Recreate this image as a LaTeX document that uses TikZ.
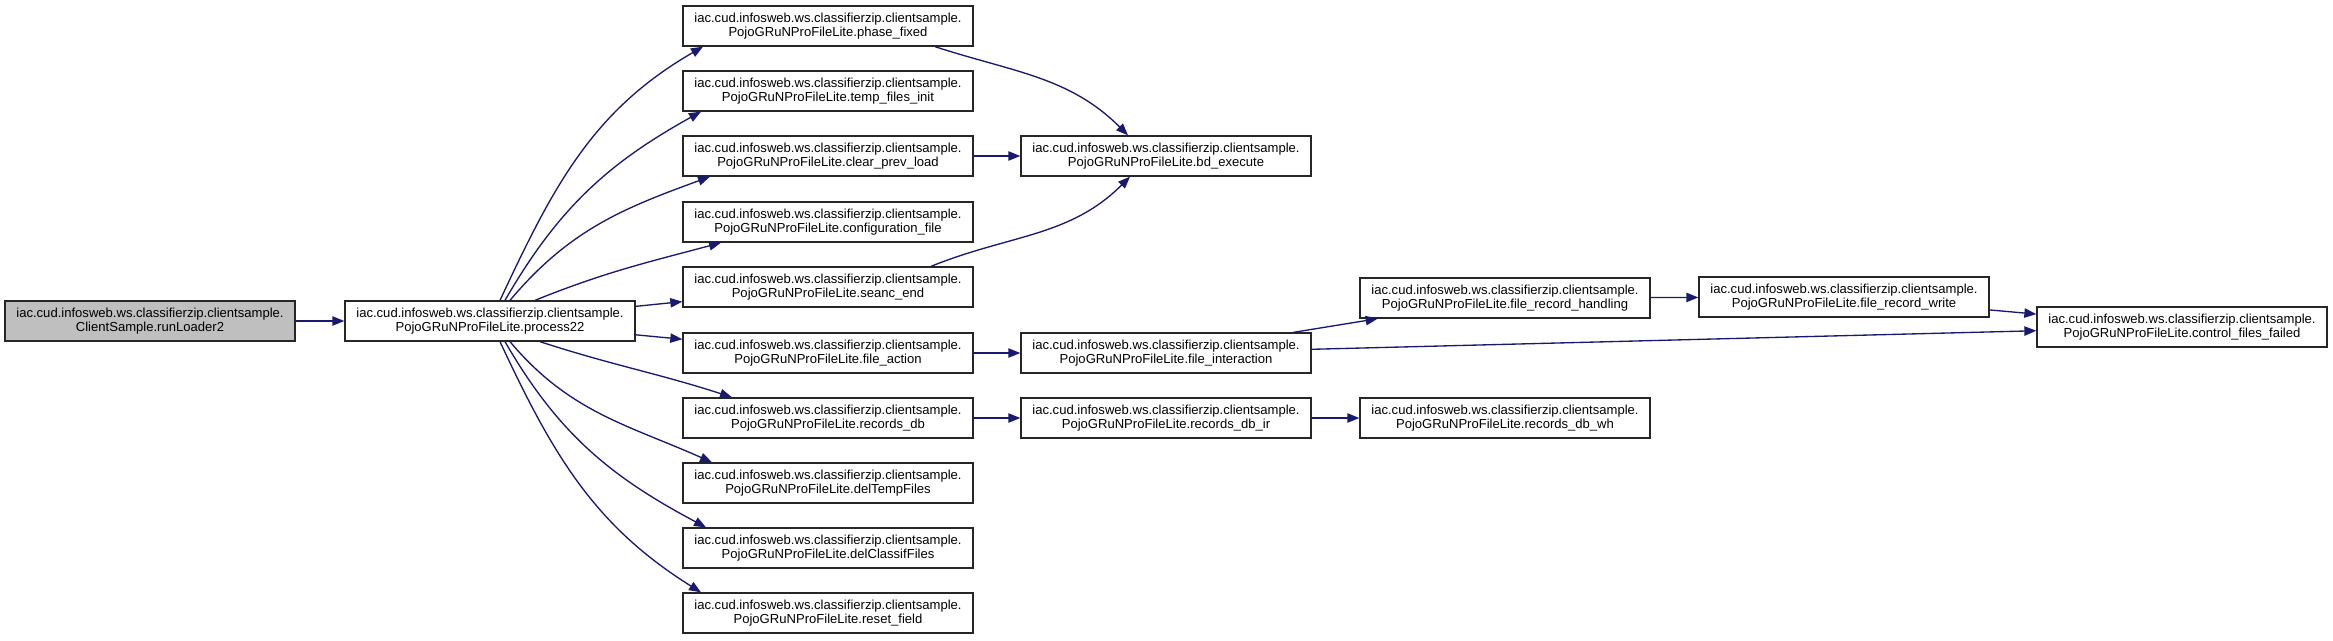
\documentclass[tikz,border=0pt]{standalone}
\usepackage{fontspec}
\setmainfont{Liberation Sans}
\usetikzlibrary{arrows.meta,calc}
\definecolor{edgeblue}{HTML}{191970}
\definecolor{curgray}{HTML}{BFBFBF}

\begin{document}
\begin{tikzpicture}[x=0.75pt, y=-0.75pt, >={Triangle[length=9pt,width=7pt]},
    fn/.style={draw=black!85, line width=1pt, fill=white, align=center, minimum width=217.5pt, minimum height=30pt, inner sep=1pt, font=\fontsize{9.8pt}{10.5pt}\selectfont},
    cur/.style={fn, fill=curgray},
    calls/.style={->, draw=edgeblue, line width=1pt}]
  \useasboundingbox (0,0) rectangle (2333,640);
  % caller and entry
  \node[cur] (run) at (150,321) {iac.cud.infosweb.ws.classifierzip.clientsample.\\ClientSample.runLoader2};
  \node[fn] (p22) at (490,321) {iac.cud.infosweb.ws.classifierzip.clientsample.\\PojoGRuNProFileLite.process22};
  % first level
  \node[fn] (pf) at (828,26) {iac.cud.infosweb.ws.classifierzip.clientsample.\\PojoGRuNProFileLite.phase\_fixed};
  \node[fn] (tfi) at (828,91) {iac.cud.infosweb.ws.classifierzip.clientsample.\\PojoGRuNProFileLite.temp\_files\_init};
  \node[fn] (cpl) at (828,156) {iac.cud.infosweb.ws.classifierzip.clientsample.\\PojoGRuNProFileLite.clear\_prev\_load};
  \node[fn] (cfg) at (828,222) {iac.cud.infosweb.ws.classifierzip.clientsample.\\PojoGRuNProFileLite.configuration\_file};
  \node[fn] (sen) at (828,287) {iac.cud.infosweb.ws.classifierzip.clientsample.\\PojoGRuNProFileLite.seanc\_end};
  \node[fn] (fa) at (828,353) {iac.cud.infosweb.ws.classifierzip.clientsample.\\PojoGRuNProFileLite.file\_action};
  \node[fn] (rdb) at (828,418) {iac.cud.infosweb.ws.classifierzip.clientsample.\\PojoGRuNProFileLite.records\_db};
  \node[fn] (dtf) at (828,483) {iac.cud.infosweb.ws.classifierzip.clientsample.\\PojoGRuNProFileLite.delTempFiles};
  \node[fn] (dcf) at (828,548) {iac.cud.infosweb.ws.classifierzip.clientsample.\\PojoGRuNProFileLite.delClassifFiles};
  \node[fn] (rsf) at (828,613) {iac.cud.infosweb.ws.classifierzip.clientsample.\\PojoGRuNProFileLite.reset\_field};
  % second level
  \node[fn] (bde) at (1166,156) {iac.cud.infosweb.ws.classifierzip.clientsample.\\PojoGRuNProFileLite.bd\_execute};
  \node[fn] (fi) at (1166,353) {iac.cud.infosweb.ws.classifierzip.clientsample.\\PojoGRuNProFileLite.file\_interaction};
  \node[fn] (rir) at (1166,418) {iac.cud.infosweb.ws.classifierzip.clientsample.\\PojoGRuNProFileLite.records\_db\_ir};
  % third level and beyond
  \node[fn] (frh) at (1505,298) {iac.cud.infosweb.ws.classifierzip.clientsample.\\PojoGRuNProFileLite.file\_record\_handling};
  \node[fn] (rwh) at (1505,418) {iac.cud.infosweb.ws.classifierzip.clientsample.\\PojoGRuNProFileLite.records\_db\_wh};
  \node[fn] (frw) at (1844,297) {iac.cud.infosweb.ws.classifierzip.clientsample.\\PojoGRuNProFileLite.file\_record\_write};
  \node[fn] (cff) at (2182,327) {iac.cud.infosweb.ws.classifierzip.clientsample.\\PojoGRuNProFileLite.control\_files\_failed};
  % calls
  \draw[calls] (run) -- (p22);
  \draw[calls] ($(p22.north)+(10,0)$) to[out=65,in=210] ($(pf.south)+(-125,0)$);
  \draw[calls] ($(p22.north)+(15,0)$) to[out=60,in=209] ($(tfi.south)+(-127,0)$);
  \draw[calls] ($(p22.north)+(20,0)$) to[out=50,in=200] ($(cpl.south)+(-118,0)$);
  \draw[calls] ($(p22.north)+(45,0)$) to[out=22,in=195] ($(cfg.south)+(-107,0)$);
  \draw[calls] (p22) -- (sen);
  \draw[calls] (p22) -- (fa);
  \draw[calls] ($(p22.south)+(50,0)$) to[out=-18,in=162] ($(rdb.north)+(-96,0)$);
  \draw[calls] ($(p22.south)+(20,0)$) to[out=-50,in=156] ($(dtf.north)+(-116,0)$);
  \draw[calls] ($(p22.south)+(15,0)$) to[out=-60,in=152] ($(dcf.north)+(-122,0)$);
  \draw[calls] ($(p22.south)+(10,0)$) to[out=-65,in=148] ($(rsf.north)+(-127,0)$);
  \draw[calls] ($(pf.south)+(107,0)$) to[out=-18,in=135] ($(bde.north)+(-38,0)$);
  \draw[calls] (cpl) -- (bde);
  \draw[calls] ($(sen.north)+(103,0)$) to[out=22,in=225] ($(bde.south)+(-36,0)$);
  \draw[calls] (fa) -- (fi);
  \draw[calls] (rdb) -- (rir);
  \draw[calls] (fi) -- (frh);
  \draw[calls] (fi) -- (cff);
  \draw[calls] (rir) -- (rwh);
  \draw[calls] (frh) -- (frw);
  \draw[calls] (frw) -- (cff);
\end{tikzpicture}
\end{document}
